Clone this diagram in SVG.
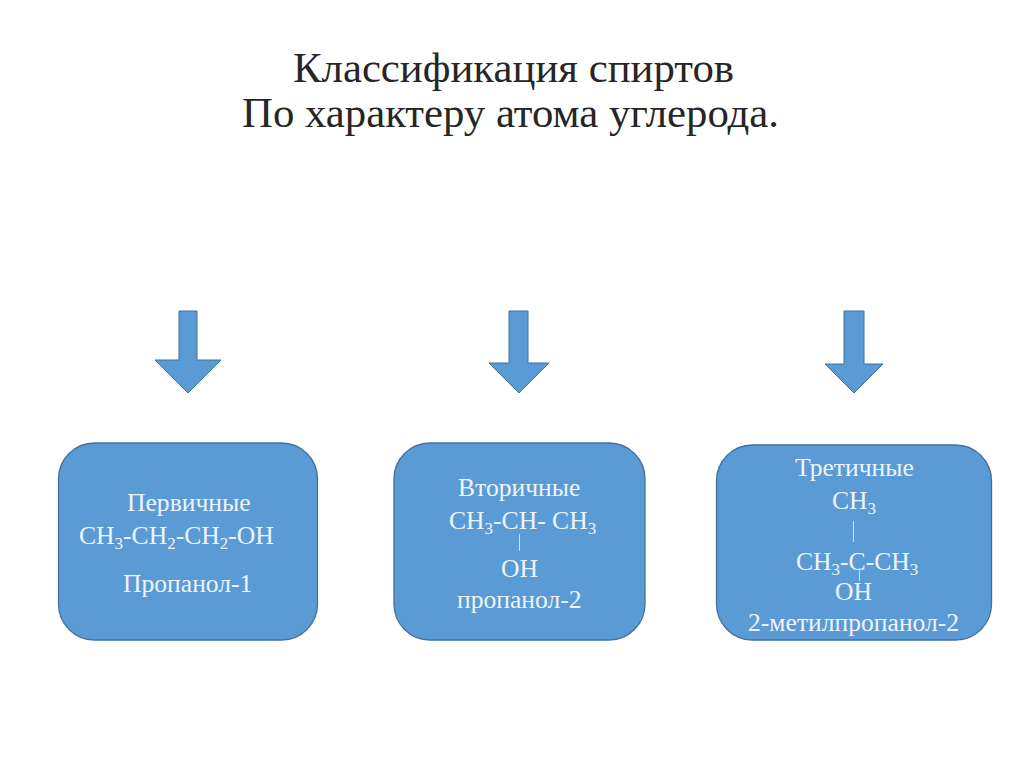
<svg xmlns="http://www.w3.org/2000/svg" width="1024" height="767" viewBox="0 0 1024 767">
<style>
text{font-family:"Liberation Serif","Times New Roman",serif}
.t{font-size:42px;fill:#262626}
.l{font-size:25.6px;fill:#eef4fb}
.s{font-size:17px}
.b{fill:#5b9bd5;stroke:#41719c;stroke-width:1.3}
.a{fill:#5b9bd5;stroke:#41719c;stroke-width:1}
.r{stroke:#cfe0f1;stroke-width:1;fill:none}
</style>
<rect width="1024" height="767" fill="#fff"/>
<g id="title">
<text class="t" x="293" y="82" textLength="441" lengthAdjust="spacingAndGlyphs">Классификация спиртов</text>
<text class="t" x="242" y="127" textLength="537" lengthAdjust="spacingAndGlyphs">По характеру атома углерода.</text>
</g>
<g id="connectors">
<polygon class="a" points="179,311 197,311 197,360 221,360 188,393 155,360 179,360"/>
<polygon class="a" points="509,311 528,311 528,363 549,363 519,393 489,363 509,363"/>
<polygon class="a" points="844,311 864,311 864,364 883,364 854,393 825,364 844,364"/>
</g>
<g id="node-primary">
<rect class="b" x="58.500" y="443" width="259" height="197" rx="36"/>
<text class="l" x="127" y="511">Первичные</text>
<text class="l" x="79" y="544">CH<tspan class="s" dy="5">3</tspan><tspan dy="-5">-CH</tspan><tspan class="s" dy="5">2</tspan><tspan dy="-5">-CH</tspan><tspan class="s" dy="5">2</tspan><tspan dy="-5">-OH</tspan></text>
<text class="l" x="123" y="592">Пропанол-1</text>
</g>
<g id="node-secondary">
<rect class="b" x="394" y="443" width="251" height="197" rx="36"/>
<text class="l" x="458" y="496">Вторичные</text>
<text class="l" x="449" y="529">CH<tspan class="s" dy="5">3</tspan><tspan dy="-5">-CH- CH</tspan><tspan class="s" dy="5">3</tspan></text>
<path class="r" d="M519.500 534V551"/>
<text class="l" x="501" y="577">OH</text>
<text class="l" x="457" y="608">пропанол-2</text>
</g>
<g id="node-tertiary">
<rect class="b" x="716.500" y="445" width="275" height="195" rx="36"/>
<text class="l" x="795" y="476">Третичные</text>
<text class="l" x="832" y="509">CH<tspan class="s" dy="5">3</tspan></text>
<path class="r" d="M853.500 521V542"/>
<text class="l" x="796" y="570">CH<tspan class="s" dy="5">3</tspan><tspan dy="-5">-C-CH</tspan><tspan class="s" dy="5">3</tspan></text>
<path class="r" d="M859.500 568V581"/>
<text class="l" x="835" y="600">OH</text>
<text class="l" x="748" y="631">2-метилпропанол-2</text>
</g>
</svg>
